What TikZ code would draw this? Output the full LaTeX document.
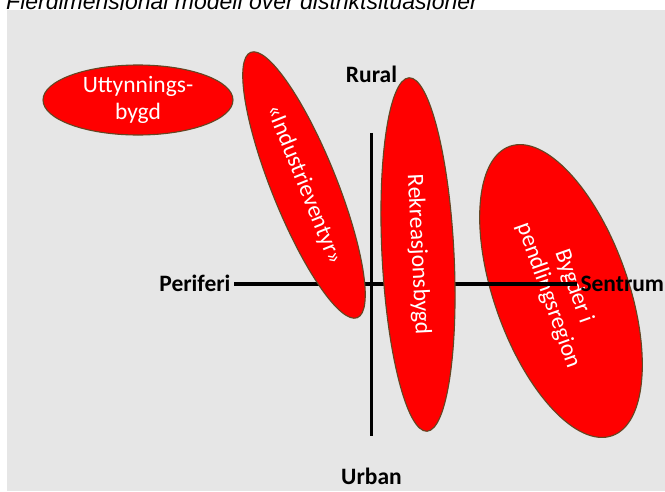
\documentclass[tikz,border=0pt]{standalone}
\usepackage{fontspec}
\setmainfont{Carlito}
\newfontfamily\titlefont{Liberation Sans}
\usetikzlibrary{shapes.geometric}
\definecolor{panel}{RGB}{230,230,230}
\definecolor{blobred}{RGB}{255,0,0}
\definecolor{rim}{RGB}{100,70,35}
\tikzset{
  blob/.style={ellipse, draw=rim, line width=1.1pt, fill=blobred, text=white, inner sep=0pt, align=center, font=\fontsize{23.5}{27}\selectfont},
  axislabel/.style={font=\fontsize{23.5}{27}\selectfont\bfseries, text height=15pt, text depth=0pt},
  axisline/.style={line width=3.2pt}
}
\begin{document}
\begin{tikzpicture}[x=1pt,y=-1pt]
\useasboundingbox (0,0) rectangle (665,491);
\node[anchor=base west, inner sep=0pt, font=\titlefont\itshape\fontsize{23}{27}\selectfont] (title) at (6,9.5) {Flerdimensjonal modell over distriktsituasjoner};
\fill[panel] (7,10) rectangle (665,491); %gray area

\node[blob, minimum width=190pt, minimum height=70pt] (utt) at (138,100) {Uttynnings-\\bygd};
\node[blob, minimum width=307pt, minimum height=134pt, rotate=-70.5] (bygd) at (561,291) {Bygder i\\pendlingsregion};

%axes
\node[axislabel, anchor=east] (periferi) at (234,284) {Periferi};
\node[axislabel, anchor=west] (sentrum) at (577,284) {Sentrum};
\node[axislabel] (rural) at (371.5,75) {Rural};
\node[axislabel] (urban) at (371.5,477) {Urban};
\draw[axisline] (periferi) -- (sentrum); %hori
\draw[axisline, shorten <=46.8pt, shorten >=29.8pt] (rural) -- (urban); %vert

\node[blob, minimum width=286pt, minimum height=65pt, rotate=-68.1] (indu) at (304,185) {«Industrieventyr»};
\node[blob, minimum width=354pt, minimum height=72pt, rotate=-87.1] (rekr) at (418,254.5) {Rekreasjonsbygd};
\end{tikzpicture}
\end{document}
